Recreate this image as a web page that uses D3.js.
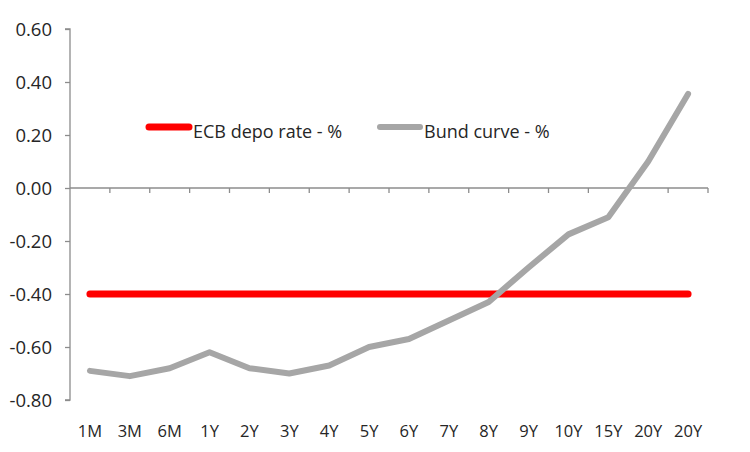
<!DOCTYPE html>
<html><head><meta charset="utf-8">
<script src="https://cdn.jsdelivr.net/npm/d3@7"></script>
<style>body{margin:0;background:#fff}svg{display:block}text{font-family:"Open Sans",sans-serif;fill:#262626}</style>
</head><body><svg id="c" width="750" height="452"></svg>
<script>
const categories = ["1M","3M","6M","1Y","2Y","3Y","4Y","5Y","6Y","7Y","8Y","9Y","10Y","15Y","20Y","20Y"];
const ecbDepo = [-0.40,-0.40,-0.40,-0.40,-0.40,-0.40,-0.40,-0.40,-0.40,-0.40,-0.40,-0.40,-0.40,-0.40,-0.40,-0.40];
const bundCurve = [-0.69,-0.71,-0.68,-0.62,-0.68,-0.70,-0.67,-0.60,-0.57,-0.50,-0.43,-0.30,-0.175,-0.11,0.10,0.355];
const yTicks = [0.60,0.40,0.20,0.00,-0.20,-0.40,-0.60,-0.80];
const seriesNames = ["ECB depo rate - %","Bund curve - %"];

const svg = d3.select("#c");
const idx = categories.map((d,i)=>i);
const x = d3.scaleBand().domain(idx).range([70,708]);
const y = d3.scaleLinear().domain([-0.8,0.6]).range([400,29]);
const axisCol = "#8c8c8c";
const fmt = v => d3.format(".2f")(v).replace("\u2212","-");

// y axis
const ya = svg.append("g").attr("transform","translate(70,0)")
  .call(d3.axisLeft(y).tickValues(yTicks).tickSize(5).tickFormat(fmt));
ya.select(".domain").attr("stroke",axisCol).attr("stroke-width",1.3).attr("d","M-5,"+y(0.6)+"H0V"+y(-0.8)+"H-5");
ya.selectAll(".tick line").attr("stroke",axisCol).attr("stroke-width",1.3);
ya.selectAll(".tick text").attr("x",-18).attr("font-size",18.5).attr("dy","0.36em").style("fill","#262626");

// x axis at zero
const xa = svg.append("g").attr("transform","translate(0,"+y(0)+")")
  .call(d3.axisBottom(x).tickSize(0).tickFormat(()=>""));
xa.select(".domain").attr("stroke",axisCol).attr("stroke-width",1.3).attr("d","M70,0H708");
const bounds = idx.map(i=>x(i)).concat([x(idx[idx.length-1])+x.bandwidth()]).slice(1);
svg.append("g").selectAll("line").data(bounds).join("line")
  .attr("x1",d=>d).attr("x2",d=>d).attr("y1",y(0)).attr("y2",y(0)+5)
  .attr("stroke",axisCol).attr("stroke-width",1.3);

// category labels at bottom
svg.append("g").selectAll("text").data(categories).join("text")
  .attr("x",(d,i)=>x(i)+x.bandwidth()/2).attr("y",437)
  .attr("text-anchor","middle").attr("font-size",16.5).text(d=>d);

const line = d3.line().x((d,i)=>x(i)+x.bandwidth()/2).y(d=>y(d));
svg.append("path").datum(ecbDepo).attr("d",line).attr("fill","none")
  .attr("stroke","#ff0000").attr("stroke-width",7).attr("stroke-linecap","round");
svg.append("path").datum(bundCurve).attr("d",line).attr("fill","none")
  .attr("stroke","#a6a6a6").attr("stroke-width",6).attr("stroke-linecap","round").attr("stroke-linejoin","round");

// legend
const leg = [{x:146,c:"#ff0000",w:7},{x:377,c:"#a6a6a6",w:6}];
leg.forEach((l,i)=>{
  svg.append("line").attr("x1",l.x+3).attr("x2",l.x+43).attr("y1",127).attr("y2",127)
    .attr("stroke",l.c).attr("stroke-width",l.w).attr("stroke-linecap","round");
  svg.append("text").attr("x",l.x+47).attr("y",138).attr("font-size",18).text(seriesNames[i]);
});
</script></body></html>
